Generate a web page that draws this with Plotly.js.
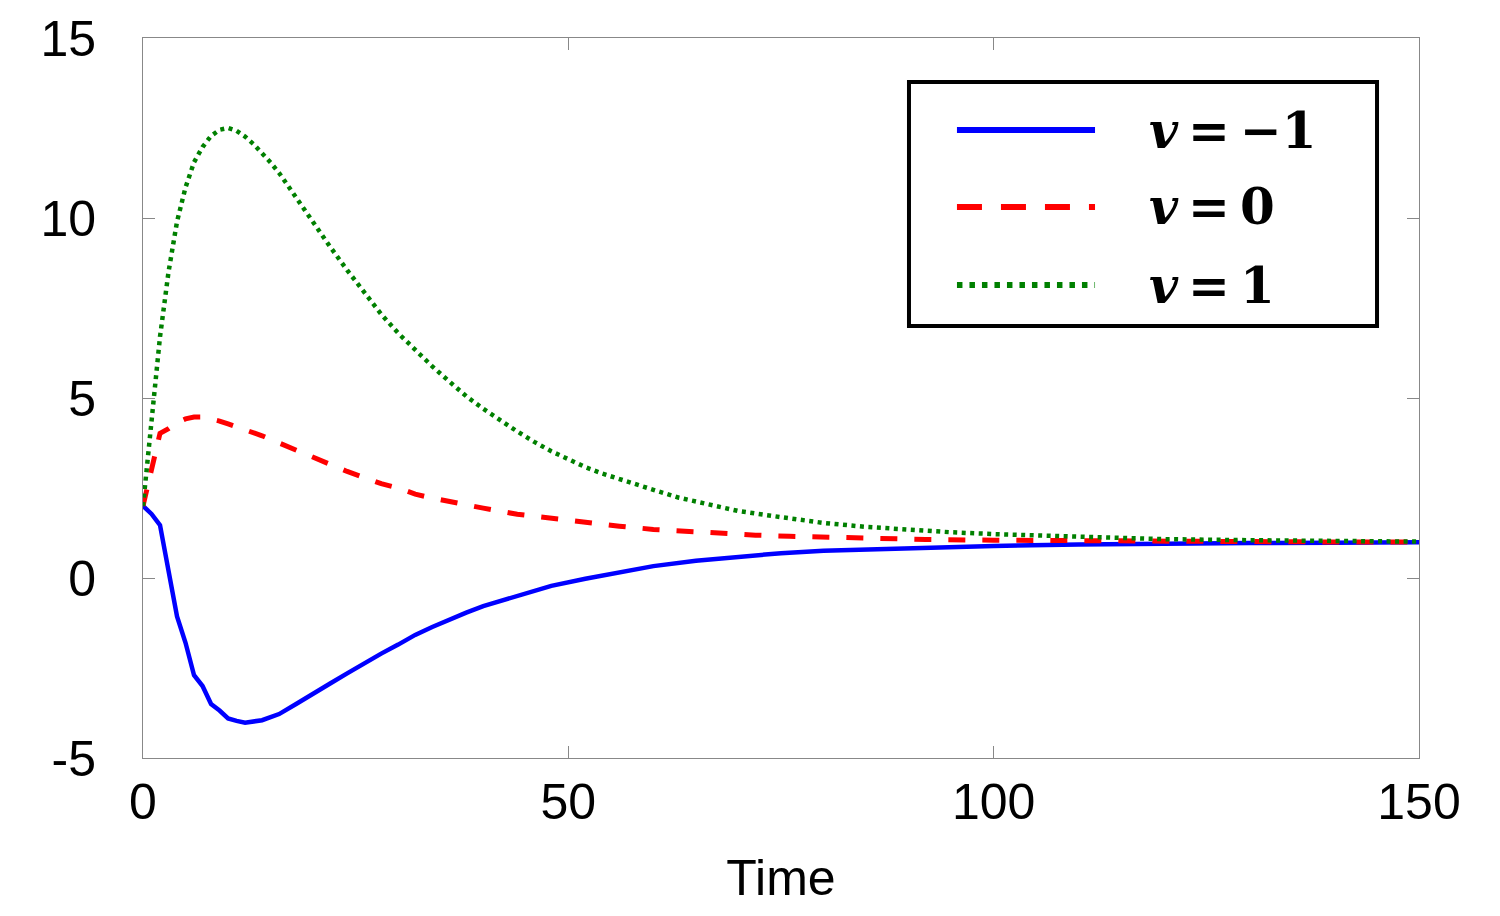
<!DOCTYPE html>
<html>
<head>
<meta charset="utf-8">
<script src="https://cdn.plot.ly/plotly-3.0.1.min.js"></script>
<style>
  html, body { margin: 0; padding: 0; background: #fff; }
  #chart { width: 1500px; height: 916px; }
</style>
</head>
<body>
<div id="chart"></div>
<script>
// Response over time for three values of v
const tBlue = [0,1,2,3,4,5,6,7,8,9,10,11,12,14,16,18,20,22,24,26,28,30,32,34,36,38,40,44,48,52,56,60,65,70,75,80,85,90,100,110,120,130,140,150];
const yBlue = [2.0,1.78,1.47,0.2,-1.07,-1.8,-2.7,-3.0,-3.5,-3.68,-3.9,-3.97,-4.02,-3.95,-3.78,-3.5,-3.2,-2.93,-2.65,-2.37,-2.1,-1.85,-1.58,-1.36,-1.15,-0.96,-0.78,-0.49,-0.22,-0.02,0.16,0.33,0.48,0.6,0.69,0.76,0.8,0.84,0.89,0.93,0.96,0.97,0.98,0.99];

const tRed = [0,1,2,3,4,5,6,7,8,9,10,12,14,16,18,20,22,24,26,28,30,32,34,36,40,44,48,52,56,60,64,68,72,76,80,84,88,92,100,110,120,130,140,150];
const yRed = [2.0,2.95,4.02,4.15,4.32,4.42,4.47,4.47,4.43,4.36,4.28,4.13,3.95,3.75,3.55,3.35,3.15,2.96,2.79,2.62,2.5,2.33,2.22,2.12,1.94,1.77,1.65,1.54,1.44,1.35,1.29,1.24,1.19,1.16,1.13,1.11,1.09,1.07,1.05,1.03,1.01,1.0,1.0,1.0];

const tGreen = [0,1,2,3,4,5,6,7,8,9,10,11,12,13,14,15,16,18,20,22,24,26,28,30,32,34,36,38,40,42,44,46,48,50,52,54,56,58,60,63,66,70,75,80,85,90,95,100,110,120,130,140,150];
const yGreen = [2.0,4.3,6.7,8.5,9.9,10.85,11.55,11.97,12.28,12.45,12.5,12.42,12.26,12.05,11.8,11.54,11.25,10.56,9.9,9.2,8.55,7.93,7.33,6.8,6.32,5.88,5.46,5.05,4.7,4.37,4.07,3.78,3.52,3.3,3.08,2.9,2.74,2.6,2.45,2.23,2.06,1.86,1.69,1.53,1.42,1.34,1.27,1.22,1.14,1.08,1.05,1.02,1.01];

const seriesNames = ['v = \u22121', 'v = 0', 'v = 1'];
const legendLabels = [
  '<b><i>v</i>\u2009=\u2009\u22121</b>',
  '<b><i>v</i>\u2009=\u20090</b>',
  '<b><i>v</i>\u2009=\u20091</b>'
];
const xTicks = [0, 50, 100, 150];
const yTicks = [-5, 0, 5, 10, 15];

const colors = ['#0000ff', '#ff0000', '#008000'];
const curveDash = ['solid', '17px,17px', '4px,4.5px'];
const legendDash = ['solid', '25px,19px', '5.5px,7px'];

const traces = [
  { x: tBlue,  y: yBlue,  name: seriesNames[0], mode: 'lines', line: { color: colors[0], width: 4.5, dash: curveDash[0] } },
  { x: tRed,   y: yRed,   name: seriesNames[1], mode: 'lines', line: { color: colors[1], width: 5,   dash: curveDash[1] } },
  { x: tGreen, y: yGreen, name: seriesNames[2], mode: 'lines', line: { color: colors[2], width: 4.5, dash: curveDash[2] } }
];

// Boxed legend with long line samples, placed in paper coordinates
const box = { x0: 0.6003, x1: 0.9671, y0: 0.600, y1: 0.9389 };
const rowY = [0.8722, 0.7653, 0.6569];
const shapes = [
  { type: 'rect', xref: 'paper', yref: 'paper', x0: box.x0, x1: box.x1, y0: box.y0, y1: box.y1,
    line: { color: '#000', width: 4 }, fillcolor: '#fff', layer: 'above' }
];
const annotations = [];
rowY.forEach((yy, i) => {
  shapes.push({ type: 'line', xref: 'paper', yref: 'paper', x0: 0.6379, x1: 0.7461, y0: yy, y1: yy,
    line: { color: colors[i], width: 6, dash: legendDash[i] }, layer: 'above' });
  annotations.push({ xref: 'paper', yref: 'paper', x: 0.7868, y: yy, xanchor: 'left', yanchor: 'middle',
    showarrow: false, text: legendLabels[i],
    font: { family: 'DejaVu Serif, Liberation Serif, serif', size: 50, color: '#000' } });
});

const axisCommon = {
  showline: true, linecolor: '#888', linewidth: 1, mirror: 'ticks',
  ticks: 'inside', ticklen: 12, tickcolor: '#888', tickwidth: 1,
  showgrid: false, zeroline: false,
  tickfont: { family: 'Liberation Sans, Arial, sans-serif', size: 50, color: '#000' }
};

const layout = {
  width: 1500, height: 916,
  margin: { l: 143, r: 81, t: 38, b: 158 },
  paper_bgcolor: '#fff', plot_bgcolor: '#fff',
  showlegend: false,
  xaxis: Object.assign({}, axisCommon, {
    range: [0, 150], tickvals: xTicks, ticktext: xTicks.map(String),
    ticklabelstandoff: 0,
    title: { text: 'Time', font: { family: 'Liberation Sans, Arial, sans-serif', size: 50, color: '#000' }, standoff: 30 }
  }),
  yaxis: Object.assign({}, axisCommon, {
    range: [-5, 15], tickvals: yTicks, ticktext: yTicks.map(String),
    ticklabelstandoff: 36
  }),
  shapes: shapes,
  annotations: annotations
};

Plotly.newPlot('chart', traces, layout, { displayModeBar: false, staticPlot: true });
</script>
</body>
</html>
